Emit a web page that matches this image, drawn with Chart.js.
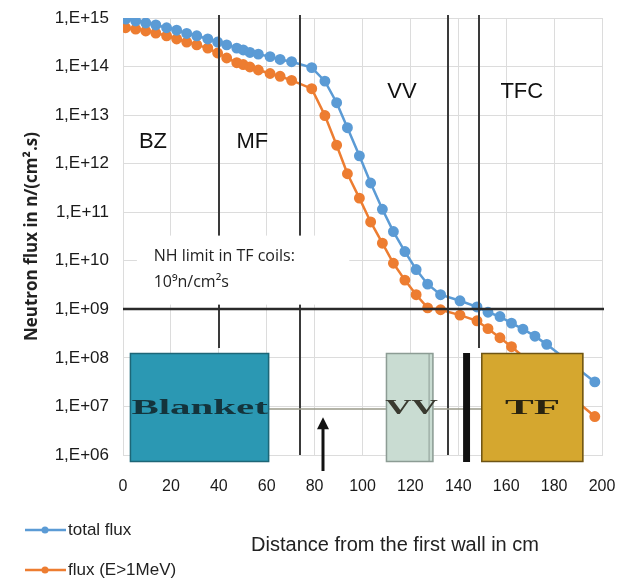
<!DOCTYPE html>
<html>
<head>
<meta charset="utf-8">
<title>Neutron flux</title>
<script src="https://cdn.jsdelivr.net/npm/chart.js@4.4.1/dist/chart.umd.min.js"></script>
<style>
  html, body { margin: 0; padding: 0; background: #fff; }
  #wrap { position: relative; width: 621px; height: 584px; }
</style>
</head>
<body>
<div id="wrap"><canvas id="fluxChart" width="621" height="584"></canvas></div>
<script>
// distance from the first wall (cm)
const distance = [1.1, 5.3, 9.5, 13.7, 18.2, 22.4, 26.6, 30.8, 35.4, 39.5,
  43.3, 47.5, 50.2, 53, 56.5, 61.4, 65.6, 70.4, 78.8, 84.3,
  89.2, 93.7, 98.7, 103.4, 108.3, 112.9, 117.7, 122.4, 127.2, 132.6,
  140.7, 147.8, 152.4, 157.4, 162.2, 167, 172, 176.9, 197];

// n/(cm2.s)
const totalFlux = [9.5e14, 8.7e14, 7.9e14, 7.2e14, 6.3e14, 5.6e14, 4.8e14, 4.3e14, 3.7e14, 3.2e14,
  2.8e14, 2.4e14, 2.2e14, 1.95e14, 1.8e14, 1.6e14, 1.4e14, 1.26e14, 9.5e13, 5.0e13,
  1.8e13, 5.5e12, 1.45e12, 4.0e11, 1.15e11, 4.0e10, 1.55e10, 6.6e9, 3.3e9, 2.0e9,
  1.5e9, 1.12e9, 8.7e8, 7.1e8, 5.2e8, 3.9e8, 2.8e8, 1.9e8, 3.2e7];

const fastFlux = [6.3e14, 5.9e14, 5.4e14, 4.9e14, 4.3e14, 3.7e14, 3.2e14, 2.8e14, 2.4e14, 1.9e14,
  1.5e14, 1.2e14, 1.1e14, 9.8e13, 8.5e13, 7.2e13, 6.3e13, 5.2e13, 3.5e13, 9.8e12,
  2.4e12, 6.2e11, 1.95e11, 6.3e10, 2.3e10, 8.9e9, 4.0e9, 2.0e9, 1.07e9, 9.8e8,
  7.6e8, 5.8e8, 4.0e8, 2.6e8, 1.7e8, null, null, null, 6.2e6];

const yExponents = [6, 7, 8, 9, 10, 11, 12, 13, 14, 15];
const seriesNames = ['total flux', 'flux (E>1MeV)'];

// zone boundaries (cm) and labels
const zoneBounds = [40, 74, 135.7, 148.6];
const zoneLabels = [['BZ', 12.5, 12.45], ['MF', 54, 12.45], ['VV', 116.5, 13.48], ['TFC', 166.5, 13.48]];
const nhLimit = 1e9;

const BLUE = '#5b9bd5';
const ORANGE = '#ed7d31';
const TICK_FONT = "'Liberation Sans Narrow', 'Liberation Sans', Arial, sans-serif";

function toPoints(values) {
  return distance.map((d, i) => ({ x: d, y: values[i] }));
}

function drawBox(ctx, x0, y0, x1, y1, fill, stroke) {
  ctx.fillStyle = fill;
  ctx.fillRect(x0, y0, x1 - x0, y1 - y0);
  ctx.strokeStyle = stroke;
  ctx.lineWidth = 1.5;
  ctx.strokeRect(x0 + 0.5, y0 + 0.5, x1 - x0 - 1, y1 - y0 - 1);
}

// bold serif label squeezed/stretched to a given width
function stretchText(ctx, text, cx, cy, width, size, color) {
  ctx.save();
  ctx.font = 'bold ' + size + "px 'Liberation Serif', 'DejaVu Serif', serif";
  ctx.fillStyle = color;
  ctx.textAlign = 'center';
  ctx.textBaseline = 'middle';
  const k = width / ctx.measureText(text).width;
  ctx.translate(cx, cy);
  ctx.scale(k, 1);
  ctx.fillText(text, 0, 0);
  ctx.restore();
}

const overlayPlugin = {
  id: 'overlay',
  afterDatasetsDraw(chart) {
    const { ctx, chartArea: a, scales: { x, y } } = chart;
    ctx.save();

    // zone boundary lines
    ctx.strokeStyle = '#3a3a3a';
    ctx.lineWidth = 2;
    zoneBounds.forEach((b, i) => {
      const px = Math.round(x.getPixelForValue(b));
      const yEnd = i === 1 || i === 2 ? a.bottom : y.getPixelForValue(1.6e8);
      ctx.beginPath();
      ctx.moveTo(px, a.top - 3);
      ctx.lineTo(px, yEnd);
      ctx.stroke();
    });

    // NH limit line
    const yLim = Math.round(y.getPixelForValue(nhLimit));
    ctx.strokeStyle = '#2a2a2a';
    ctx.lineWidth = 2.5;
    ctx.beginPath();
    ctx.moveTo(a.left, yLim);
    ctx.lineTo(a.right + 2, yLim);
    ctx.stroke();

    // label box
    const bx0 = x.getPixelForValue(5.8), bx1 = x.getPixelForValue(94.5);
    const by0 = y.getPixelForValue(3.3e10), by1 = y.getPixelForValue(1.25e9);
    ctx.fillStyle = '#fff';
    ctx.fillRect(bx0, by0, bx1 - bx0, by1 - by0);
    ctx.fillStyle = '#222';
    ctx.font = "16px 'Open Sans', 'Noto Sans', sans-serif";
    ctx.textAlign = 'left';
    ctx.textBaseline = 'middle';
    const tx = x.getPixelForValue(12.8);
    ctx.fillText('NH limit in TF coils:', tx, y.getPixelForValue(1.2e10));
    ctx.fillText('10\u2079n/cm\u00b2s', tx, y.getPixelForValue(3.6e9));

    // zone labels
    ctx.font = "22px " + TICK_FONT;
    ctx.textAlign = 'center';
    ctx.fillStyle = '#111';
    zoneLabels.forEach(([t, cx, lg]) => {
      ctx.fillText(t, x.getPixelForValue(cx), y.getPixelForValue(Math.pow(10, lg)));
    });

    // component sketch
    const bTop = Math.round(y.getPixelForValue(1.25e8));
    const bBot = a.bottom + 7;
    const midY = Math.round(y.getPixelForValue(9e6));
    ctx.strokeStyle = '#9a9a8a';
    ctx.lineWidth = 1.5;
    ctx.beginPath();
    ctx.moveTo(x.getPixelForValue(61), midY);
    ctx.lineTo(x.getPixelForValue(150), midY);
    ctx.stroke();

    drawBox(ctx, x.getPixelForValue(2.9), bTop, x.getPixelForValue(61), bBot, '#2b98b3', '#1d6677');
    drawBox(ctx, x.getPixelForValue(109.8), bTop, x.getPixelForValue(129.6), bBot, '#c9dcd2', '#8c9c94');
    ctx.strokeStyle = '#8c9c94';
    ctx.lineWidth = 1;
    ctx.beginPath();
    ctx.moveTo(x.getPixelForValue(127.8), bTop);
    ctx.lineTo(x.getPixelForValue(127.8), bBot);
    ctx.stroke();
    ctx.fillStyle = '#111';
    ctx.fillRect(x.getPixelForValue(142), bTop, x.getPixelForValue(144.9) - x.getPixelForValue(142), bBot - bTop);
    drawBox(ctx, x.getPixelForValue(149.6), bTop, x.getPixelForValue(192.2), bBot, '#d5a72f', '#6e5414');

    stretchText(ctx, 'Blanket', x.getPixelForValue(32), midY, x.getPixelForValue(60.5) - x.getPixelForValue(3.5), 20, '#14343c');
    stretchText(ctx, 'VV', x.getPixelForValue(120.5), midY, x.getPixelForValue(131) - x.getPixelForValue(109), 20, '#3a3a30');
    stretchText(ctx, 'TF', x.getPixelForValue(171), midY, x.getPixelForValue(182) - x.getPixelForValue(159), 21, '#2a2410');

    // arrow
    const ax = Math.round(x.getPixelForValue(83.5));
    const aTop = y.getPixelForValue(6e6);
    ctx.strokeStyle = '#111';
    ctx.fillStyle = '#111';
    ctx.lineWidth = 3;
    ctx.beginPath();
    ctx.moveTo(ax, a.bottom + 16);
    ctx.lineTo(ax, aTop + 8);
    ctx.stroke();
    ctx.beginPath();
    ctx.moveTo(ax, aTop);
    ctx.lineTo(ax - 6, aTop + 12);
    ctx.lineTo(ax + 6, aTop + 12);
    ctx.closePath();
    ctx.fill();

    // x axis title
    ctx.font = "20px " + TICK_FONT;
    ctx.fillStyle = '#222';
    ctx.textAlign = 'center';
    ctx.fillText('Distance from the first wall in cm', 395, 545);

    // legend
    [[BLUE, seriesNames[0], 530], [ORANGE, seriesNames[1], 570]].forEach(([c, t, ly]) => {
      ctx.strokeStyle = c;
      ctx.fillStyle = c;
      ctx.lineWidth = 2.5;
      ctx.beginPath();
      ctx.moveTo(25, ly);
      ctx.lineTo(66, ly);
      ctx.stroke();
      ctx.beginPath();
      ctx.arc(45, ly, 3.5, 0, Math.PI * 2);
      ctx.fill();
      ctx.fillStyle = '#222';
      ctx.textAlign = 'left';
      ctx.font = "17px " + TICK_FONT;
      ctx.fillText(t, 68, ly);
    });

    ctx.restore();
  }
};

new Chart(document.getElementById('fluxChart'), {
  type: 'scatter',
  data: {
    datasets: [
      {
        label: seriesNames[0],
        data: toPoints(totalFlux),
        showLine: true,
        borderColor: BLUE,
        backgroundColor: BLUE,
        borderWidth: 2.5,
        pointRadius: 4.2,
        pointHoverRadius: 4.2
      },
      {
        label: seriesNames[1],
        data: toPoints(fastFlux),
        showLine: true,
        spanGaps: true,
        borderColor: ORANGE,
        backgroundColor: ORANGE,
        borderWidth: 2.5,
        pointRadius: 4.2,
        pointHoverRadius: 4.2
      }
    ]
  },
  options: {
    responsive: false,
    animation: false,
    layout: { padding: { left: 0, top: 18, right: 19, bottom: 89 } },
    plugins: { legend: { display: false }, tooltip: { enabled: false } },
    scales: {
      x: {
        type: 'linear',
        min: 0,
        max: 200,
        afterFit: (s) => { s.height = 40; },
        ticks: { stepSize: 20, padding: 0, color: '#1a1a1a', font: { size: 16, family: TICK_FONT } },
        grid: { color: '#dcdcdc', drawTicks: true, tickLength: 22, tickColor: 'rgba(0,0,0,0)' },
        border: { color: '#dcdcdc' }
      },
      y: {
        type: 'logarithmic',
        min: 1e6,
        max: 1e15,
        afterFit: (s) => { s.width = 123; },
        afterBuildTicks: (s) => { s.ticks = yExponents.map(e => ({ value: Math.pow(10, e) })); },
        ticks: {
          padding: 0,
          color: '#1a1a1a',
          font: { size: 17, family: TICK_FONT },
          callback: (v) => {
            const e = Math.round(Math.log10(v));
            return '1,E+' + (e < 10 ? '0' + e : e);
          }
        },
        grid: { color: '#dcdcdc', drawTicks: true, tickLength: 14, tickColor: 'rgba(0,0,0,0)' },
        border: { color: '#dcdcdc' },
        title: {
          display: true,
          text: 'Neutron flux in n/(cm\u00b2.s)',
          color: '#222',
          padding: { top: 22, bottom: 0 },
          font: { size: 17, weight: 'bold', family: "'Open Sans', 'Noto Sans', sans-serif" }
        }
      }
    }
  },
  plugins: [overlayPlugin]
});
</script>
</body>
</html>
